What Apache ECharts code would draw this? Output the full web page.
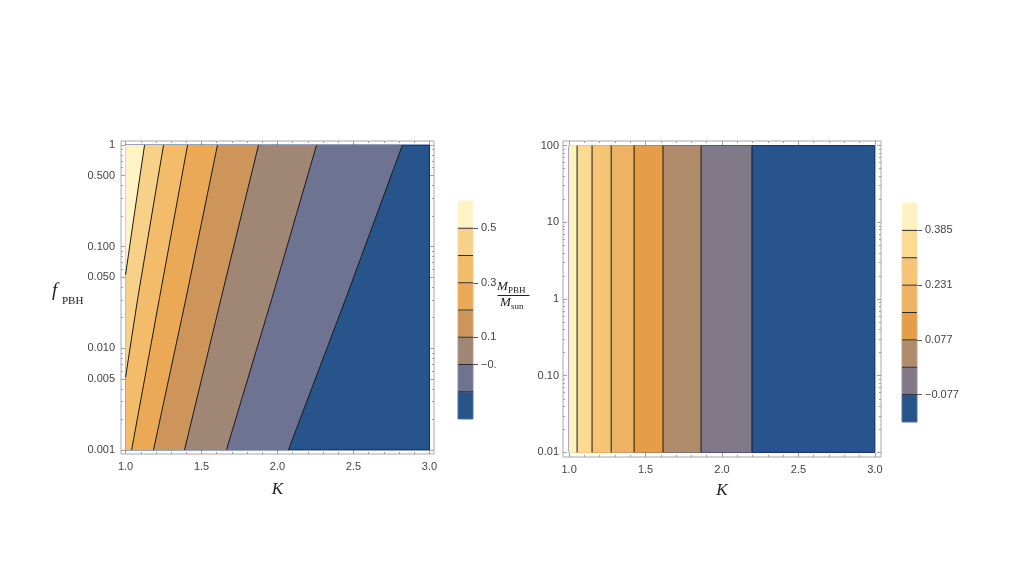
<!DOCTYPE html>
<html><head><meta charset="utf-8">
<script src="https://cdn.jsdelivr.net/npm/echarts@6/dist/echarts.min.js"></script>
<style>html,body{margin:0;padding:0;background:#fff}#c{width:1024px;height:578px}</style>
</head><body><div id="c"></div>
<script>
// ================= DATA =================
// Left panel: M_PBH/M_sun contours over K (x) and f_PBH (y, log)
const leftLevels = [-0.1, 0.0, 0.1, 0.2, 0.3, 0.4, 0.5];
// band colours, lowest band (< -0.1) first, highest band (> 0.5) last
const leftColors = ['#27548A', '#6E7391', '#A08775', '#CD9559', '#EBA956', '#F2BC6A', '#F8D189', '#FEF3C5'];
// contour lines as [K, f_PBH] points, top to bottom
const leftLineM01 = [[2.822, 1], [2.452, 0.0316], [2.072, 0.001]];
const leftLine00  = [[2.257, 1], [1.965, 0.0316], [1.664, 0.001]];
const leftLine01  = [[1.875, 1], [1.630, 0.0316], [1.388, 0.001]];
const leftLine02  = [[1.605, 1], [1.399, 0.0316], [1.184, 0.001]];
const leftLine03  = [[1.408, 1], [1.224, 0.0316], [1.040, 0.001]];
const leftLine04  = [[1.250, 1], [1.081, 0.0316], [1.000, 0.0052]];
const leftLine05  = [[1.125, 1], [1.062, 0.23], [1.000, 0.053]];
const leftKRange = [1, 3];
const leftFRange = [0.001, 1];
const leftXTicks = [1.0, 1.5, 2.0, 2.5, 3.0];
const leftXTickLabels = ['1.0', '1.5', '2.0', '2.5', '3.0'];
const leftYTicks = [0.001, 0.005, 0.01, 0.05, 0.1, 0.5, 1];
const leftYTickLabels = ['0.001', '0.005', '0.010', '0.050', '0.100', '0.500', '1'];
const leftLegendTicks = [0.5, 0.3, 0.1, 0];
const leftLegendTickLabels = ['0.5', '0.3', '0.1', '\u22120.'];
const leftLegendRange = [-0.2, 0.6];

// Right panel: vertical contours over K (x) and y (log 0.01..100)
const rightLevels = [-0.077, 0, 0.077, 0.154, 0.231, 0.308, 0.385];
const rightColors = ['#27548A', '#817985', '#B08B6C', '#E59D4A', '#EEB263', '#F5C475', '#FDDA92', '#FFF2C2'];
const rightLineK = [2.196, 1.863, 1.614, 1.425, 1.275, 1.150, 1.052]; // K of each level line
const rightKRange = [1, 3];
const rightFRange = [0.01, 100];
const rightXTicks = [1.0, 1.5, 2.0, 2.5, 3.0];
const rightXTickLabels = ['1.0', '1.5', '2.0', '2.5', '3.0'];
const rightYTicks = [0.01, 0.1, 1, 10, 100];
const rightYTickLabels = ['0.01', '0.10', '1', '10', '100'];
const rightLegendTicks = [0.385, 0.231, 0.077, -0.077];
const rightLegendTickLabels = ['0.385', '0.231', '0.077', '\u22120.077'];
const rightLegendRange = [-0.154, 0.462];

// minor tick positions
const xMinorTicks = [1.1, 1.2, 1.3, 1.4, 1.6, 1.7, 1.8, 1.9, 2.1, 2.2, 2.3, 2.4, 2.6, 2.7, 2.8, 2.9];
const minorMult = [2, 3, 4, 6, 7, 8, 9];
const leftYMinor = [];
[-3, -2, -1].forEach(e => minorMult.forEach(m => leftYMinor.push(m * Math.pow(10, e))));
const rightYMinor = [];
[-2, -1, 0, 1].forEach(e => [2, 3, 4, 5, 6, 7, 8, 9].forEach(m => rightYMinor.push(m * Math.pow(10, e))));

// ================= CHART =================
const L = Math.log10;
const leftLines = [leftLineM01, leftLine00, leftLine01, leftLine02, leftLine03, leftLine04, leftLine05];
const rightLines = rightLineK.map(k => [[k, rightFRange[1]], [k, rightFRange[0]]]);

const sans = '"Liberation Sans", Arial, Helvetica, sans-serif';
const serif = '"Liberation Serif", "Times New Roman", serif';
const labelStyle = { fontFamily: sans, fontSize: 11, color: '#444' };
const tickColor = '#a0a0a0';

function fmt(ticks, labels, tf) {
  return function (v) {
    for (let i = 0; i < ticks.length; i++) if (Math.abs(tf(ticks[i]) - v) < 1e-6) return labels[i];
    return '';
  };
}

function makeX(gi, min, max, majors, labels, minors, name, nameGap) {
  const base = { type: 'value', gridIndex: gi, min: min, max: max, splitLine: { show: false },
    axisLine: { show: false, onZero: false } };
  return [
    Object.assign({}, base, { position: 'bottom', name: name, nameLocation: 'middle', nameGap: nameGap,
      nameTextStyle: { fontFamily: serif, fontStyle: 'italic', fontSize: 17, color: '#222' },
      axisTick: { show: true, inside: true, length: 4, customValues: majors, lineStyle: { color: tickColor } },
      axisLabel: Object.assign({ show: true, customValues: majors, formatter: fmt(majors, labels, v => v), margin: 7 }, labelStyle) }),
    Object.assign({}, base, { position: 'bottom',
      axisTick: { show: true, inside: true, length: 2, customValues: minors, lineStyle: { color: tickColor } },
      axisLabel: { show: false } }),
    Object.assign({}, base, { position: 'top',
      axisTick: { show: true, inside: true, length: 4, customValues: majors, lineStyle: { color: tickColor } },
      axisLabel: { show: false } }),
    Object.assign({}, base, { position: 'top',
      axisTick: { show: true, inside: true, length: 2, customValues: minors, lineStyle: { color: tickColor } },
      axisLabel: { show: false } })
  ];
}

function makeY(gi, min, max, majors, labels, minors, margin) {
  const base = { type: 'value', gridIndex: gi, min: min, max: max, splitLine: { show: false },
    axisLine: { show: false, onZero: false } };
  const M = majors.map(L), m = minors.map(L);
  return [
    Object.assign({}, base, { position: 'left',
      axisTick: { show: true, inside: true, length: 4, customValues: M, lineStyle: { color: tickColor } },
      axisLabel: Object.assign({ show: true, customValues: M, formatter: fmt(majors, labels, L), margin: margin }, labelStyle) }),
    Object.assign({}, base, { position: 'left',
      axisTick: { show: true, inside: true, length: 2, customValues: m, lineStyle: { color: tickColor } },
      axisLabel: { show: false } }),
    Object.assign({}, base, { position: 'right',
      axisTick: { show: true, inside: true, length: 4, customValues: M, lineStyle: { color: tickColor } },
      axisLabel: { show: false } }),
    Object.assign({}, base, { position: 'right',
      axisTick: { show: true, inside: true, length: 2, customValues: m, lineStyle: { color: tickColor } },
      axisLabel: { show: false } })
  ];
}

function regionSeries(xi, yi, lines, colors, kr, fr) {
  return {
    type: 'custom', xAxisIndex: xi, yAxisIndex: yi, silent: true, z: 2,
    data: colors.map(() => [kr[0], L(fr[0])]),
    renderItem: function (params, api) {
      const i = params.dataIndex;
      let pts;
      if (i === 0) pts = [[kr[0], fr[1]], [kr[1], fr[1]], [kr[1], fr[0]], [kr[0], fr[0]]];
      else pts = lines[i - 1].concat([[kr[0], fr[0]], [kr[0], fr[1]]]);
      return {
        type: 'polygon', z2: i,
        shape: { points: pts.map(p => api.coord([p[0], L(p[1])])) },
        style: { fill: colors[i], stroke: i === 0 ? '#0d2c66' : null, lineWidth: 1 }
      };
    }
  };
}

function lineSeries(xi, yi, lines) {
  return lines.map(line => ({
    type: 'line', xAxisIndex: xi, yAxisIndex: yi, silent: true, z: 3,
    data: line.map(p => [p[0], L(p[1])]),
    symbol: 'none', lineStyle: { color: '#1a1a1a', width: 1 }
  }));
}

function darker(c) {
  try { return echarts.color.lift(c, 0.18); } catch (e) { return 'rgba(0,0,0,0.3)'; }
}

function legendSeries(xi, yi, levels, colors, range) {
  const edges = [range[0]].concat(levels, [range[1]]);
  return [{
    type: 'custom', xAxisIndex: xi, yAxisIndex: yi, silent: true, z: 2,
    data: colors.map((c, i) => [0, edges[i]]),
    renderItem: function (params, api) {
      const i = params.dataIndex;
      const p0 = api.coord([0, edges[i + 1]]);
      const p1 = api.coord([1, edges[i]]);
      return {
        type: 'rect', z2: i,
        shape: { x: p0[0], y: p0[1], width: p1[0] - p0[0], height: p1[1] - p0[1] },
        style: { fill: colors[i], stroke: darker(colors[i]), lineWidth: 1 }
      };
    }
  }].concat(levels.map(lv => ({
    type: 'line', xAxisIndex: xi, yAxisIndex: yi, silent: true, z: 3,
    data: [[0, lv], [1, lv]], symbol: 'none', lineStyle: { color: '#2a2a2a', width: 1 }
  })));
}

function legendAxes(gi, range, ticks, labels) {
  return {
    x: { type: 'value', gridIndex: gi, min: 0, max: 1, show: false },
    y: { type: 'value', gridIndex: gi, position: 'right', min: range[0], max: range[1],
      splitLine: { show: false }, axisLine: { show: false, onZero: false },
      axisTick: { show: true, inside: false, length: 5, customValues: ticks, lineStyle: { color: '#555' } },
      axisLabel: Object.assign({ show: true, customValues: ticks, formatter: fmt(ticks, labels, v => v), margin: 8 }, labelStyle) }
  };
}

const lg = legendAxes(2, leftLegendRange, leftLegendTicks, leftLegendTickLabels);
const rg = legendAxes(3, rightLegendRange, rightLegendTicks, rightLegendTickLabels);

const option = {
  animation: false,
  backgroundColor: '#ffffff',
  grid: [
    { left: 121, top: 141, width: 313, height: 313, show: true, borderColor: '#a8a8a8', borderWidth: 1, backgroundColor: 'transparent' },
    { left: 563, top: 141, width: 318, height: 316, show: true, borderColor: '#a8a8a8', borderWidth: 1, backgroundColor: 'transparent' },
    { left: 458, top: 201, width: 15, height: 218 },
    { left: 902, top: 203, width: 15, height: 219 }
  ],
  xAxis: [].concat(
    makeX(0, 0.97, 3.03, leftXTicks, leftXTickLabels, xMinorTicks, 'K', 27),
    makeX(1, 0.96, 3.04, rightXTicks, rightXTickLabels, xMinorTicks, 'K', 25),
    [lg.x, rg.x]
  ),
  yAxis: [].concat(
    makeY(0, L(leftFRange[0]) - 0.04, L(leftFRange[1]) + 0.04, leftYTicks, leftYTickLabels, leftYMinor, 6),
    makeY(1, L(rightFRange[0]) - 0.06, L(rightFRange[1]) + 0.06, rightYTicks, rightYTickLabels, rightYMinor, 4),
    [lg.y, rg.y]
  ),
  series: [].concat(
    [regionSeries(0, 0, leftLines, leftColors, leftKRange, leftFRange)],
    lineSeries(0, 0, leftLines),
    [regionSeries(4, 4, rightLines, rightColors, rightKRange, rightFRange)],
    lineSeries(4, 4, rightLines),
    legendSeries(8, 8, leftLevels, leftColors, leftLegendRange),
    legendSeries(9, 9, rightLevels, rightColors, rightLegendRange)
  ),
  graphic: [
    { type: 'text', left: 52, top: 281, style: { text: 'f', font: 'italic 19px ' + serif, fill: '#222' } },
    { type: 'text', left: 62, top: 296, style: { text: 'PBH', font: '11px ' + serif, fill: '#222' } },
    { type: 'text', left: 497, top: 280, style: { text: 'M', font: 'italic 13px ' + serif, fill: '#222' } },
    { type: 'text', left: 508, top: 286, style: { text: 'PBH', font: '9px ' + serif, fill: '#222' } },
    { type: 'line', shape: { x1: 497.5, y1: 295.5, x2: 529.5, y2: 295.5 }, style: { stroke: '#222', lineWidth: 1 } },
    { type: 'text', left: 500, top: 296, style: { text: 'M', font: 'italic 13px ' + serif, fill: '#222' } },
    { type: 'text', left: 511, top: 302, style: { text: 'sun', font: '9px ' + serif, fill: '#222' } }
  ]
};

const chart = echarts.init(document.getElementById('c'), null, { renderer: 'canvas' });
chart.setOption(option);
</script>
</body></html>
